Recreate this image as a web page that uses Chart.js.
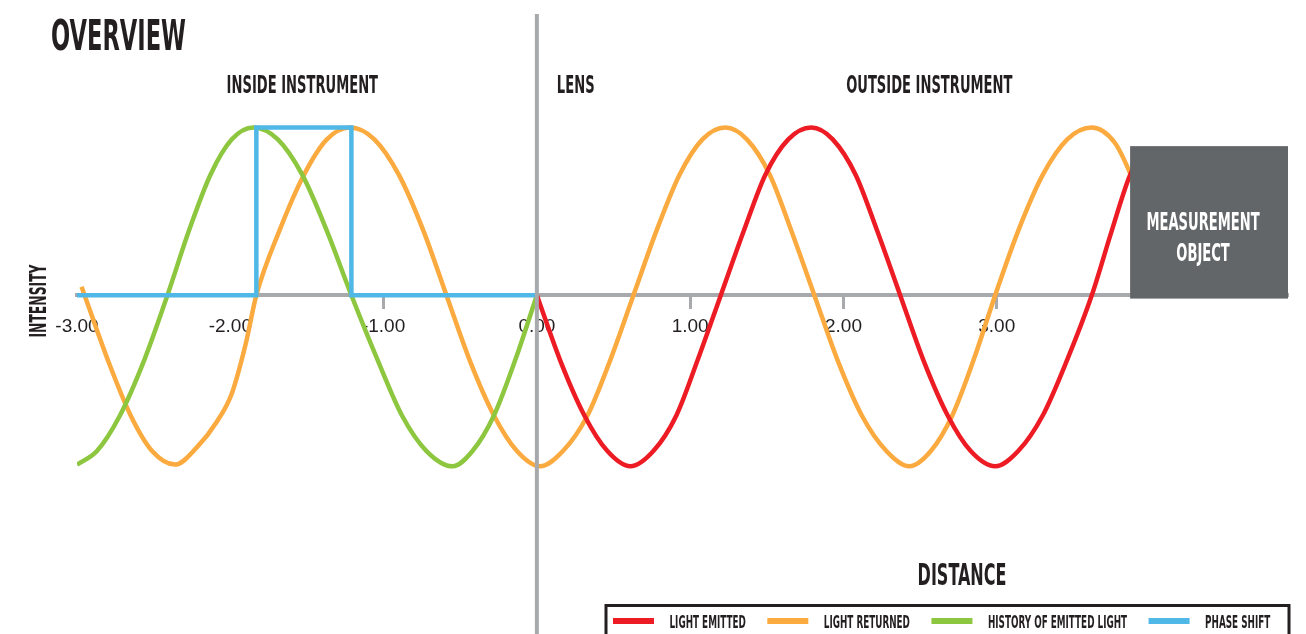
<!DOCTYPE html>
<html>
<head>
<meta charset="utf-8">
<script src="https://cdn.jsdelivr.net/npm/chart.js@4.4.1/dist/chart.umd.min.js"></script>
<style>
html,body{margin:0;padding:0;background:#ffffff;overflow:hidden}
#wrap{position:relative;width:1306px;height:634px}
</style>
</head>
<body>
<div id="wrap"><canvas id="c"></canvas></div>
<script>
// ---- data ----
const seriesNames = ['LIGHT EMITTED', 'LIGHT RETURNED', 'HISTORY OF EMITTED LIGHT', 'PHASE SHIFT'];

const emittedX = [0, 0.15, 0.31, 0.46, 0.61, 0.76, 0.91, 1.05, 1.20, 1.35, 1.49, 1.64, 1.79, 1.93, 2.08, 2.22, 2.37, 2.52, 2.68, 2.83, 2.99, 3.14, 3.30, 3.46, 3.62, 3.75, 3.87, 3.95];
const emittedY = [0, -0.38, -0.71, -0.92, -1.01, -0.92, -0.71, -0.38, 0, 0.38, 0.71, 0.92, 0.99, 0.92, 0.71, 0.38, 0, -0.38, -0.71, -0.92, -1.01, -0.92, -0.71, -0.38, 0, 0.38, 0.71, 0.84];

const returnedX = [-2.97, -2.80, -2.65, -2.51, -2.36, -2.22, -2.09, -1.99, -1.90, -1.83, -1.68, -1.52, -1.37, -1.22, -1.06, -0.90, -0.74, -0.59, -0.44, -0.28, -0.13, 0.02, 0.17, 0.33, 0.48, 0.63, 0.78, 0.93, 1.08, 1.23, 1.37, 1.52, 1.66, 1.81, 1.96, 2.12, 2.28, 2.43, 2.57, 2.71, 2.85, 2.99, 3.14, 3.30, 3.46, 3.62, 3.77, 3.87, 3.96];
const returnedY = [0.05, -0.38, -0.71, -0.92, -1.00, -0.90, -0.75, -0.58, -0.29, 0, 0.38, 0.71, 0.92, 0.99, 0.92, 0.71, 0.38, 0, -0.38, -0.71, -0.92, -1.01, -0.92, -0.71, -0.38, 0, 0.38, 0.71, 0.92, 0.99, 0.92, 0.71, 0.38, 0, -0.38, -0.71, -0.92, -1.01, -0.92, -0.71, -0.38, 0, 0.38, 0.71, 0.92, 0.99, 0.90, 0.72, 0.50];

const historyX = [-3.00, -2.87, -2.72, -2.56, -2.41, -2.27, -2.13, -1.99, -1.85, -1.69, -1.53, -1.37, -1.21, -1.04, -0.88, -0.72, -0.55, -0.42, -0.28, -0.14, 0];
const historyY = [-1.0, -0.92, -0.71, -0.38, 0, 0.38, 0.71, 0.92, 0.99, 0.92, 0.71, 0.38, 0, -0.38, -0.71, -0.92, -1.01, -0.92, -0.71, -0.38, 0];

const phaseX = [-3.0, -1.83, -1.83, -1.21, -1.21, 0];
const phaseY = [0, 0, 0.99, 0.99, 0, 0];

const tickValues = [-3, -2, -1, 0, 1, 2, 3];
const tickLabels = ['-3.00', '-2.00', '-1.00', '0.00', '1.00', '2.00', '3.00'];
const hiddenTickMarks = [-3, -2, 0];

const regionLabels = ['INSIDE INSTRUMENT', 'LENS', 'OUTSIDE INSTRUMENT'];
const objectLabel = ['MEASUREMENT', 'OBJECT'];

// ---- styles ----
const RED = '#ed1c24', ORANGE = '#fbaa3f', GREEN = '#8dc63f', BLUE = '#4fb8e6';
const GRAY = '#a7a9ac', BOXGRAY = '#636669', INK = '#231f20';
const CAP = 0.729;
const FONT_FAMILY = '"DejaVu Sans Condensed", "DejaVu Sans", sans-serif';

function pts(xs, ys) { return xs.map((x, i) => ({ x: x, y: ys[i] })); }

let condense = null;
function calib(ctx) {
  if (condense !== null) return condense;
  const size = 31 / CAP;
  ctx.save();
  ctx.font = 'bold ' + size + 'px ' + FONT_FAMILY;
  const w = ctx.measureText('OVERVIEW').width;
  ctx.restore();
  condense = 135 / w;
  return condense;
}
function condText(ctx, text, x, y, cap, align, color, rotate, extra) {
  const k = calib(ctx) * (extra || 1);
  ctx.save();
  ctx.font = 'bold ' + (cap / CAP) + 'px ' + FONT_FAMILY;
  ctx.fillStyle = color;
  ctx.textBaseline = 'alphabetic';
  ctx.textAlign = 'left';
  const w = ctx.measureText(text).width * k;
  const off = align === 'center' ? -w / 2 : (align === 'right' ? -w : 0);
  ctx.translate(x, y);
  if (rotate) ctx.rotate(rotate);
  ctx.translate(off, 0);
  ctx.scale(k, 1);
  ctx.fillText(text, 0, 0);
  ctx.restore();
  return w;
}

const overlay = {
  id: 'overlay',
  afterDatasetsDraw(chart) {
    const { ctx, chartArea, scales } = chart;
    const x = scales.x, y = scales.y;
    // lens line
    const lx = x.getPixelForValue(0);
    ctx.save();
    ctx.strokeStyle = GRAY;
    ctx.lineWidth = 4;
    ctx.beginPath();
    ctx.moveTo(lx, chartArea.top);
    ctx.lineTo(lx, chart.height);
    ctx.stroke();
    // measurement object box
    const bx0 = x.getPixelForValue(3.87);
    const bx1 = chartArea.right;
    const by0 = y.getPixelForValue(0.88);
    const by1 = y.getPixelForValue(-0.02);
    ctx.fillStyle = BOXGRAY;
    ctx.fillRect(bx0, by0, bx1 - bx0, by1 - by0);
    ctx.restore();
    const cx = (bx0 + bx1) / 2 - 6;
    condText(ctx, objectLabel[0], cx, by0 + 84, 18, 'center', '#ffffff');
    condText(ctx, objectLabel[1], cx, by0 + 115, 18, 'center', '#ffffff');
  },
  afterDraw(chart) {
    const { ctx, scales } = chart;
    const x = scales.x;
    // titles
    condText(ctx, 'OVERVIEW', 51, 50, 31, 'left', INK);
    condText(ctx, regionLabels[0], x.getPixelForValue(-1.53), 93, 18, 'center', INK);
    condText(ctx, regionLabels[1], x.getPixelForValue(0) + 20, 93, 18, 'left', INK);
    condText(ctx, regionLabels[2], x.getPixelForValue(2.56), 93, 18, 'center', INK);
    condText(ctx, 'DISTANCE', 962, 585, 22, 'center', INK);
    condText(ctx, 'INTENSITY', 46, 301, 17, 'center', INK, -Math.PI / 2);
    // legend
    ctx.save();
    ctx.strokeStyle = INK;
    ctx.lineWidth = 3;
    ctx.strokeRect(606, 605.5, 683, 40);
    ctx.restore();
    let lxp = 613;
    chart.data.datasets.forEach((ds) => {
      ctx.save();
      ctx.fillStyle = ds.borderColor;
      ctx.fillRect(lxp, 618, 41, 6);
      ctx.restore();
      lxp += 41 + 15.5;
      const w = condText(ctx, ds.label, lxp, 628, 12.5, 'left', INK, 0, 0.97);
      lxp += w + 21.5;
    });
  }
};

const ctx = document.getElementById('c').getContext('2d');
const curve = { borderWidth: 4.5, cubicInterpolationMode: 'monotone', borderCapStyle: 'butt' };
new Chart(ctx, {
  type: 'line',
  data: {
    datasets: [
      Object.assign({ label: seriesNames[0], data: pts(emittedX, emittedY), borderColor: RED, order: 1 }, curve),
      Object.assign({ label: seriesNames[1], data: pts(returnedX, returnedY), borderColor: ORANGE, order: 3 }, curve),
      Object.assign({ label: seriesNames[2], data: pts(historyX, historyY), borderColor: GREEN, order: 2 }, curve),
      { label: seriesNames[3], data: pts(phaseX, phaseY), borderColor: BLUE, borderWidth: 4.5, tension: 0, borderJoinStyle: 'miter', borderCapStyle: 'butt', order: 0 }
    ]
  },
  options: {
    responsive: true,
    maintainAspectRatio: false,
    animation: false,
    elements: { point: { radius: 0, hoverRadius: 0 }, line: { fill: false } },
    layout: { padding: { left: 77, right: 18, top: 14, bottom: 0 } },
    plugins: { legend: { display: false }, tooltip: { enabled: false }, title: { display: false } },
    scales: {
      x: {
        type: 'linear',
        min: -3,
        max: 4.9,
        position: { y: 0 },
        afterFit(s) { s.height = 0; },
        afterBuildTicks(s) { s.ticks = tickValues.map(v => ({ value: v })); },
        border: { display: true, color: GRAY, width: 4 },
        grid: {
          display: true,
          drawOnChartArea: false,
          drawTicks: true,
          tickLength: 12,
          tickWidth: 3,
          color: 'rgba(0,0,0,0)',
          tickColor: (c) => (c.tick && hiddenTickMarks.includes(c.tick.value)) ? 'rgba(0,0,0,0)' : GRAY
        },
        ticks: {
          autoSkip: false,
          maxRotation: 0,
          padding: 8,
          color: INK,
          font: { family: '"Liberation Sans", Arial, sans-serif', size: 19 },
          callback: (v, i) => tickLabels[i]
        }
      },
      y: { type: 'linear', min: -2, max: 1.66, display: false }
    }
  },
  plugins: [overlay]
});
</script>
</body>
</html>
